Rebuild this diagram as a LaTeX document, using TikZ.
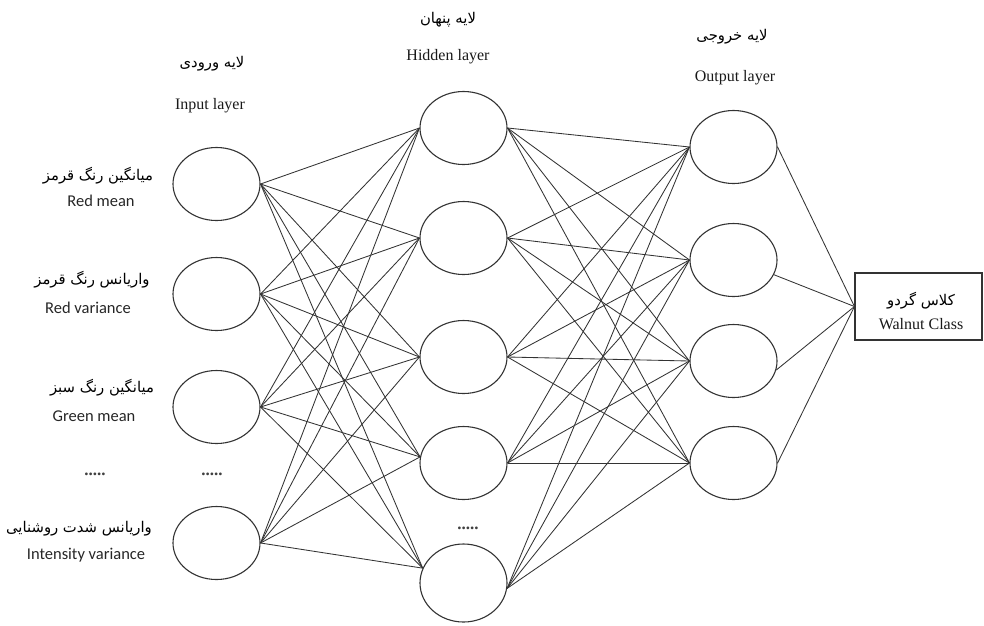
\documentclass[tikz,border=0pt]{standalone}
\usepackage{fontspec}
\setmainfont{Liberation Serif}
\newfontfamily\calib{Carlito}
\newfontfamily\fafont[Script=Arabic]{DejaVu Sans}
\TeXXeTstate=1
\usetikzlibrary{shapes.geometric}
\begin{document}
\begin{tikzpicture}[x=1pt,y=-1pt,
  neuron/.style={ellipse, draw=black!80, line width=1.1pt, minimum width=87pt, minimum height=73pt, inner sep=0pt},
  conn/.style={draw=black!80, line width=0.85pt},
  entxt/.style={font=\fontsize{16}{18}\selectfont, inner sep=0pt, text=black!90},
  sanstxt/.style={font=\calib\fontsize{16.5}{18}\selectfont, inner sep=0pt, text=black!85},
  fatxt/.style={font=\fafont\fontsize{14.8}{17}\selectfont, inner sep=0pt, text=black},
  dotstxt/.style={font=\bfseries\fontsize{17}{18}\selectfont, inner sep=0pt, text=black!75},
  classbox/.style={draw=black!80, line width=1.1pt, minimum width=127pt, minimum height=67pt, inner sep=0pt}]
\useasboundingbox (0,0) rectangle (984,625);

% input layer
\node[neuron] (i1) at (216.5,184) {};
\node[neuron] (i2) at (216.5,294) {};
\node[neuron] (i3) at (216.5,407) {};
\node[neuron] (i4) at (216.5,543) {};
% hidden layer
\node[neuron] (h1) at (463.5,128) {};
\node[neuron] (h2) at (463.5,238) {};
\node[neuron] (h3) at (463.5,357) {};
\node[neuron] (h4) at (463.5,463) {};
\node[neuron, minimum height=78pt] (h5) at (463.5,583) {};
% output layer
\node[neuron] (o1) at (733.5,147) {};
\node[neuron] (o2) at (733.5,260) {};
\node[neuron] (o3) at (733.5,361) {};
\node[neuron] (o4) at (733.5,463) {};
% class box
\node[classbox] (cls) at (918.5,306.5) {};
\node[fatxt] (clsfa) at (921,301) {\beginR کلاس گردو\endR};
\node[entxt] (clsen) at (921,324) {Walnut Class};

% anchors
\coordinate (h1in) at (h1.west);
\coordinate (h2in) at (h2.west);
\coordinate (h3in) at (h3.west);
\coordinate (h4in) at (h4.172);
\coordinate (h5in) at (h5.160);
\coordinate (h1out) at (h1.east);
\coordinate (h2out) at (h2.east);
\coordinate (h3out) at (h3.east);
\coordinate (h4out) at (h4.east);
\coordinate (h5out) at (h5.-7);

% input -> hidden
\foreach \a in {1,2,3,4}{
  \foreach \b in {1,2,3,4,5}{
    \draw[conn] (i\a.east) -- (h\b in);
  }
}
% hidden -> output
\foreach \b in {1,2,3,4,5}{
  \foreach \c in {1,2,3,4}{
    \draw[conn] (h\b out) -- (o\c.west);
  }
}
% output -> class
\draw[conn] (o1.east) -- (cls.west);
\draw[conn] (o2.-20) -- (cls.west);
\draw[conn] (o3.-12) -- (cls.west);
\draw[conn] (o4.east) -- (cls.west);

% layer titles
\node[fatxt] (tinfa) at (212,64) {\beginR لایه ورودی\endR};
\node[entxt] (tinen) at (210,106) {Input layer};
\node[fatxt] (thfa) at (448,20) {\beginR لایه پنهان\endR};
\node[entxt] (then) at (448,57) {Hidden layer};
\node[fatxt] (tofa) at (732,37) {\beginR لایه خروجی\endR};
\node[entxt] (toen) at (735,78) {Output layer};

% input labels
\node[fatxt] (l1fa) at (98,176) {\beginR میانگین رنگ قرمز\endR};
\node[sanstxt] (l1en) at (101,201) {Red mean};
\node[fatxt] (l2fa) at (92,280) {\beginR واریانس رنگ قرمز\endR};
\node[sanstxt] (l2en) at (88,308) {Red variance};
\node[fatxt] (l3fa) at (102,388) {\beginR میانگین رنگ سبز\endR};
\node[sanstxt] (l3en) at (94,416) {Green mean};
\node[fatxt] (l4fa) at (79,529) {\beginR واریانس شدت روشنایی\endR};
\node[sanstxt] (l4en) at (86,555) {Intensity variance};

% ellipsis dots
\node[dotstxt] (d1) at (95,474) {.....};
\node[dotstxt] (d2) at (212,474) {.....};
\node[dotstxt] (d3) at (468,528) {.....};
\end{tikzpicture}
\end{document}
